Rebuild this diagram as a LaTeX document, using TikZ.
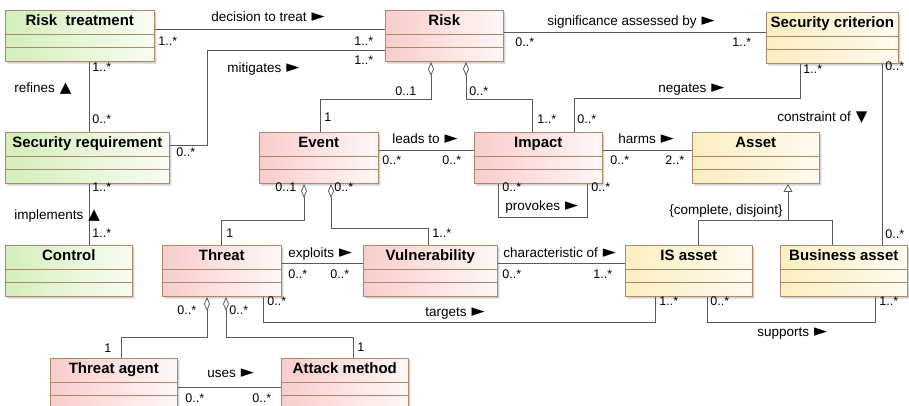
\documentclass[tikz,border=0pt]{standalone}
\usepackage{fontspec}
\setmainfont{Liberation Sans}
\newfontfamily\symfont{DejaVu Sans}
\usetikzlibrary{shapes.multipart, arrows.meta, shadows}

\definecolor{riskred}{RGB}{249,204,204}
\definecolor{reqgreen}{RGB}{212,238,186}
\definecolor{assetyellow}{RGB}{251,238,192}
\definecolor{boxline}{RGB}{176,136,108}
\definecolor{assoc}{RGB}{90,90,90}

\newcommand{\toright}{\hspace{5pt}{\symfont\fontsize{17}{17}\selectfont ►}}
\newcommand{\toup}{\hspace{5pt}{\symfont\fontsize{15}{15}\selectfont ▲}}
\newcommand{\todown}{\hspace{5pt}{\symfont\fontsize{15}{15}\selectfont ▼}}

\tikzset{
  umlclass/.style={rectangle split, rectangle split parts=3, anchor=north west,
    draw=boxline, line width=.6pt, inner xsep=2pt, inner ysep=4pt,
    text height=11pt, text depth=4pt,
    rectangle split empty part height=3.5pt, rectangle split empty part depth=0pt,
    font=\bfseries\fontsize{15}{17}\selectfont,
    drop shadow={shadow xshift=2pt, shadow yshift=-2pt, fill=black!35}},
  riskclass/.style={umlclass, left color=riskred, right color=riskred!15!white},
  reqclass/.style={umlclass, left color=reqgreen, right color=reqgreen!15!white},
  assetclass/.style={umlclass, left color=assetyellow, right color=assetyellow!25!white},
}

\begin{document}
\begin{tikzpicture}[x=1pt, y=-1pt, line width=.8pt,
  conn/.style={draw=assoc},
  aggr/.style={conn, -{Diamond[open, length=14pt, width=6pt]}},
  gener/.style={conn, -{Triangle[open, length=8pt, width=9pt]}},
  lab/.style={anchor=west, inner sep=0pt, text height=9.5pt, text depth=2.5pt,
    font=\fontsize{13.5}{15}\selectfont},
  mult/.style={lab, font=\fontsize{12.5}{14}\selectfont}]
\useasboundingbox (0,0) rectangle (909,406);

% classes
\node[reqclass, minimum width=149pt] (rtreat) at (5,10) {Risk\ \ treatment};
\node[riskclass, minimum width=118pt] (risk) at (385,10) {Risk};
\node[assetclass, minimum width=132pt] (seccrit) at (766,12) {Security criterion};
\node[reqclass, minimum width=164pt] (secreq) at (5,132) {Security requirement};
\node[riskclass, minimum width=119pt] (event) at (259,132) {Event};
\node[riskclass, minimum width=128pt] (impact) at (474,132) {Impact};
\node[assetclass, minimum width=127pt] (asset) at (692,132) {Asset};
\node[reqclass, minimum width=127pt] (control) at (5,245) {Control};
\node[riskclass, minimum width=119pt] (threat) at (162,245) {Threat};
\node[riskclass, minimum width=134pt] (vuln) at (363,245) {Vulnerability};
\node[assetclass, minimum width=127pt] (isasset) at (625,245) {IS asset};
\node[assetclass, minimum width=127pt] (basset) at (780,245) {Business asset};
\node[riskclass, minimum width=127pt] (tagent) at (50,358) {Threat agent};
\node[riskclass, minimum width=127pt] (attack) at (281,358) {Attack method};

% associations
\draw[conn] (rtreat.east |- 0,29) -- (risk.west |- 0,29);
\draw[conn] (risk.east |- 0,32) -- (seccrit.west |- 0,32);
\draw[conn] (risk.west |- 0,50) -| (207,145) -- (secreq.east |- 0,145);
\draw[conn] (rtreat.south -| 89,0) -- (secreq.north -| 89,0);
\draw[conn] (secreq.south -| 89,0) -- (control.north -| 89,0);
\draw[aggr] (event.north -| 320,0) |- (431,99) -- (risk.south -| 431,0);
\draw[aggr] (impact.north -| 532,0) |- (466,99) -- (risk.south -| 466,0);
\draw[conn] (seccrit.south -| 800,0) |- (574,98) -- (impact.north -| 574,0);
\draw[conn] (seccrit.south -| 882,0) -- (basset.north -| 882,0);
\draw[conn] (event.east |- 0,150) -- (impact.west |- 0,150);
\draw[conn] (impact.east |- 0,150) -- (asset.west |- 0,150);
\draw[conn] (impact.south -| 498,0) |- (587,217) -- (impact.south -| 587,0);
\draw[gener] (isasset.north -| 698,0) |- (788,220) -- (asset.south -| 788,0);
\draw[conn] (basset.north -| 832,0) |- (788,220);
\draw[aggr] (threat.north -| 221,0) |- (304,220) -- (event.south -| 304,0);
\draw[aggr] (vuln.north -| 428,0) |- (331,228) -- (event.south -| 331,0);
\draw[conn] (threat.east |- 0,263) -- (vuln.west |- 0,263);
\draw[conn] (vuln.east |- 0,263) -- (isasset.west |- 0,263);
\draw[conn] (threat.south -| 263,0) |- (655,322) -- (isasset.south -| 655,0);
\draw[conn] (isasset.south -| 707,0) |- (875,322) -- (basset.south -| 875,0);
\draw[aggr] (tagent.north -| 121,0) |- (207,337) -- (threat.south -| 207,0);
\draw[aggr] (attack.north -| 353,0) |- (226,337) -- (threat.south -| 226,0);
\draw[conn] (tagent.east |- 0,387) -- (attack.west |- 0,387);

% association names
\node[lab] (ldecide) at (211,18) {decision to treat\toright};
\node[lab] (lsignif) at (547,22) {significance assessed by\toright};
\node[lab] (lmitig) at (227,69) {mitigates\toright};
\node[lab] (lrefine) at (14,89) {refines\toup};
\node[lab] (limpl) at (14,216) {implements\toup};
\node[lab] (lnegate) at (658,89) {negates\toright};
\node[lab] (lconstr) at (777,118) {constraint of\todown};
\node[lab] (lleads) at (392,140) {leads to\toright};
\node[lab] (lharms) at (618,140) {harms\toright};
\node[lab] (lprovok) at (505,207) {provokes\toright};
\node[lab] (lcompl) at (669,211) {\{complete, disjoint\}};
\node[lab] (lexploit) at (288,254) {exploits\toright};
\node[lab] (lcharac) at (503,254) {characteristic of\toright};
\node[lab] (ltarget) at (425,313) {targets\toright};
\node[lab] (lsupport) at (757,333) {supports\toright};
\node[lab] (luses) at (207,374) {uses\toright};

% multiplicities
\foreach \px/\py/\txt [count=\k] in {158/42/1..*, 354/42/1..*, 354/61/1..*,
  176/153/0..*, 92/68/1..*, 92/120/0..*, 92/188/1..*, 92/234/1..*,
  515/43/0..*, 732/43/1..*, 395/92/0..1, 324/118/1, 469/92/0..*, 537/120/1..*,
  803/70/1..*, 885/67/0..*, 577/120/0..*, 885/235/0..*,
  382/161/0..*, 442/161/0..*, 610/161/0..*, 665/161/2..*,
  502/188/0..*, 591/188/0..*, 275/188/0..1, 226/234/1, 334/188/0..*, 432/234/1..*,
  288/275/0..*, 330/275/0..*, 502/275/0..*, 593/275/1..*,
  267/302/0..*, 659/302/1..*, 710/302/0..*, 879/302/1..*,
  177/311/0..*, 229/311/0..*, 104/349/1, 357/348/1, 185/399/0..*, 252/399/0..*}
  \node[mult] (mult\k) at (\px,\py) {\txt};
\end{tikzpicture}
\end{document}
